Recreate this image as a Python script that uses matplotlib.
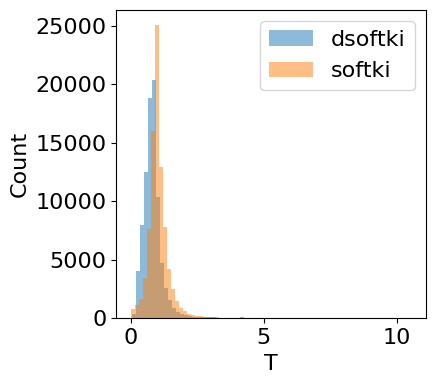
import numpy as np
import matplotlib
matplotlib.use("Agg")
import matplotlib.pyplot as plt

# bin layout (both series use 0.15 wide bins)
bin_width = 0.15
dsoftki_start = 0.07
softki_start = 0.03

# counts per bin, left to right
dsoftki_counts = [400, 4060, 7950, 12500, 18800, 20400, 10400, 4700, 2600, 1560,
                  900, 560, 370, 250, 190, 150, 120, 100, 90, 80,
                  70, 60, 60, 0, 0, 0, 0, 130]
softki_counts = [800, 1100, 1650, 3400, 7600, 16000, 25100, 12900, 7800, 4200,
                 2500, 1500, 900, 600, 370, 260, 220, 180, 150, 120,
                 100, 80, 60]

plt.rcParams['font.size'] = 16

fig = plt.figure(figsize=(4.36, 3.83), dpi=100)
ax = fig.add_axes([0.266, 0.169, 0.711, 0.805])

for name, start, counts in [("dsoftki", dsoftki_start, dsoftki_counts),
                            ("softki", softki_start, softki_counts)]:
    edges = start + bin_width * np.arange(len(counts) + 1)
    centers = edges[:-1] + bin_width / 2
    ax.hist(centers, bins=edges, weights=counts, alpha=0.5, label=name)

ax.set_xlim(-0.55, 11.1)
ax.set_xticks([0, 5, 10])
ax.set_xlabel("T")
ax.set_ylabel("Count")
ax.legend(loc="upper right")

fig.savefig("out.png", dpi=100)
